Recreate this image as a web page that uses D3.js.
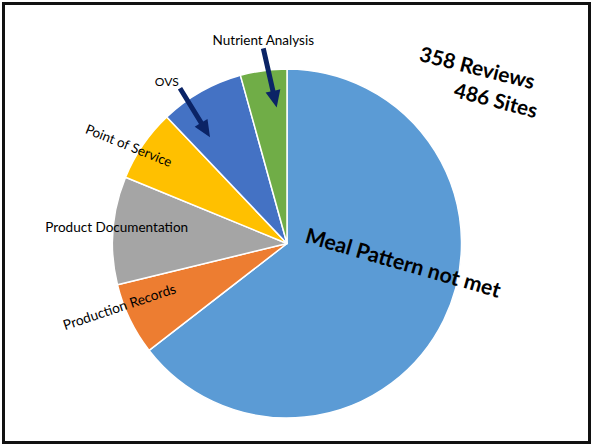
<!DOCTYPE html>
<html>
<head>
<meta charset="utf-8">
<script src="https://cdn.jsdelivr.net/npm/d3@7"></script>
<style>
	html, body { margin: 0; padding: 0; background: #fff; }
	svg { display: block; }
	text { font-family: Lato, "Open Sans", sans-serif; fill: #000; }
</style>
</head>
<body>
<div id="chartbox"></div>
<script>
// slices, clockwise from 12 o'clock
var categories = ["Meal Pattern not met", "Production Records", "Product Documentation",
	"Point of Service", "OVS", "Nutrient Analysis"];
var shares = [64.5, 6.7, 10.0, 6.7, 7.8, 4.3];
var sliceColors = ["#5b9bd5", "#ed7d31", "#a5a5a5", "#ffc000", "#4472c4", "#70ad47"];
var totals = ["358 Reviews", "486 Sites"];

var WIDTH = 592;
var HEIGHT = 445;
var CX = 287;
var CY = 243.5;
var RADIUS = 174.5;

// where each label sits, relative to the pie centre (baseline middle)
var labelLayout = {
	"Meal Pattern not met": { dx: 114, dy: 26.5, rot: 16, width: 202, bold: true },
	"Production Records": { dx: -166, dy: 68, rot: -18.5, width: 118 },
	"Product Documentation": { dx: -170.3, dy: -11.2, rot: 0, width: 143 },
	"Point of Service": { dx: -160, dy: -93.5, rot: 22, width: 92 },
	"OVS": { dx: -120.3, dy: -157.5, rot: 0, width: 24 },
	"Nutrient Analysis": { dx: -23.7, dy: -198.5, rot: 0, width: 101.5 }
};
var totalsLayout = [
	{ dx: 188.5, dy: -168.5, rot: 14, width: 118 },
	{ dx: 207, dy: -136, rot: 14.5, width: 85 }
];
// callout arrows: label -> slice
var arrowLayout = [
	{ from: [-107, -155.2], to: [-77, -106.2] },
	{ from: [-23.7, -195.2], to: [-10.3, -136] }
];

jQueryLessReady();

function jQueryLessReady() {

	var svg = d3.select("#chartbox").append("svg")
		.attr("width", WIDTH)
		.attr("height", HEIGHT);

	// frame
	svg.append("rect")
		.attr("x", 3.5)
		.attr("y", 3.5)
		.attr("width", WIDTH - 6)
		.attr("height", HEIGHT - 6)
		.attr("fill", "#fff")
		.attr("stroke", "#111")
		.attr("stroke-width", 3);

	var g = svg.append("g")
		.attr("transform", "translate(" + CX + "," + CY + ")");

	var pie = d3.pie().sort(null).value(function(d) { return d; });
	var arc = d3.arc().innerRadius(0).outerRadius(RADIUS);
	var color = d3.scaleOrdinal().domain(categories).range(sliceColors);

	g.append("g")
		.selectAll(".slice")
		.data(pie(shares))
		.enter().append("path")
		.attr("class", "slice")
		.attr("d", arc)
		.attr("fill", function(d, i) { return color(categories[i]); })
		.attr("stroke", "#fff")
		.attr("stroke-width", 1.5)
		.attr("stroke-linejoin", "round");

	// arrows
	g.append("g")
		.selectAll(".arrow")
		.data(arrowLayout)
		.enter().append("path")
		.attr("class", "arrow")
		.attr("d", arrowPath)
		.attr("fill", "#0b2466");

	// slice labels
	g.append("g")
		.selectAll(".label")
		.data(categories)
		.enter().append("text")
		.attr("class", "label")
		.attr("text-anchor", "middle")
		.attr("font-weight", function(d) { return labelLayout[d].bold ? "bold" : "normal"; })
		.attr("transform", function(d) {
			var l = labelLayout[d];
			return "translate(" + l.dx + "," + l.dy + ") rotate(" + l.rot + ")";
		})
		.text(function(d) { return d; })
		.each(function(d) { fitText(this, labelLayout[d].width); });

	// totals note
	g.append("g")
		.selectAll(".total")
		.data(totals)
		.enter().append("text")
		.attr("class", "total")
		.attr("text-anchor", "middle")
		.attr("font-weight", "bold")
		.attr("transform", function(d, i) {
			var l = totalsLayout[i];
			return "translate(" + l.dx + "," + l.dy + ") rotate(" + l.rot + ")";
		})
		.text(function(d) { return d; })
		.each(function(d, i) { fitText(this, totalsLayout[i].width); });

}

function fitText(node, target) {
	var base = 20;
	d3.select(node).style("font-size", base + "px");
	var len = node.getComputedTextLength();
	d3.select(node).style("font-size", (base * target / len).toFixed(2) + "px");
}

function arrowPath(a) {
	var x0 = a.from[0], y0 = a.from[1];
	var x1 = a.to[0], y1 = a.to[1];
	var len = Math.sqrt((x1 - x0) * (x1 - x0) + (y1 - y0) * (y1 - y0));
	var ux = (x1 - x0) / len, uy = (y1 - y0) / len;
	var px = -uy, py = ux;
	var shaft = 2.5, head = 7.5, headLen = 17;
	var bx = x1 - ux * headLen, by = y1 - uy * headLen;
	var pts = [
		[x0 + px * shaft, y0 + py * shaft],
		[bx + px * shaft, by + py * shaft],
		[bx + px * head, by + py * head],
		[x1, y1],
		[bx - px * head, by - py * head],
		[bx - px * shaft, by - py * shaft],
		[x0 - px * shaft, y0 - py * shaft]
	];
	return "M" + pts.map(function(p) { return p[0].toFixed(1) + "," + p[1].toFixed(1); }).join("L") + "Z";
}
</script>
</body>
</html>
